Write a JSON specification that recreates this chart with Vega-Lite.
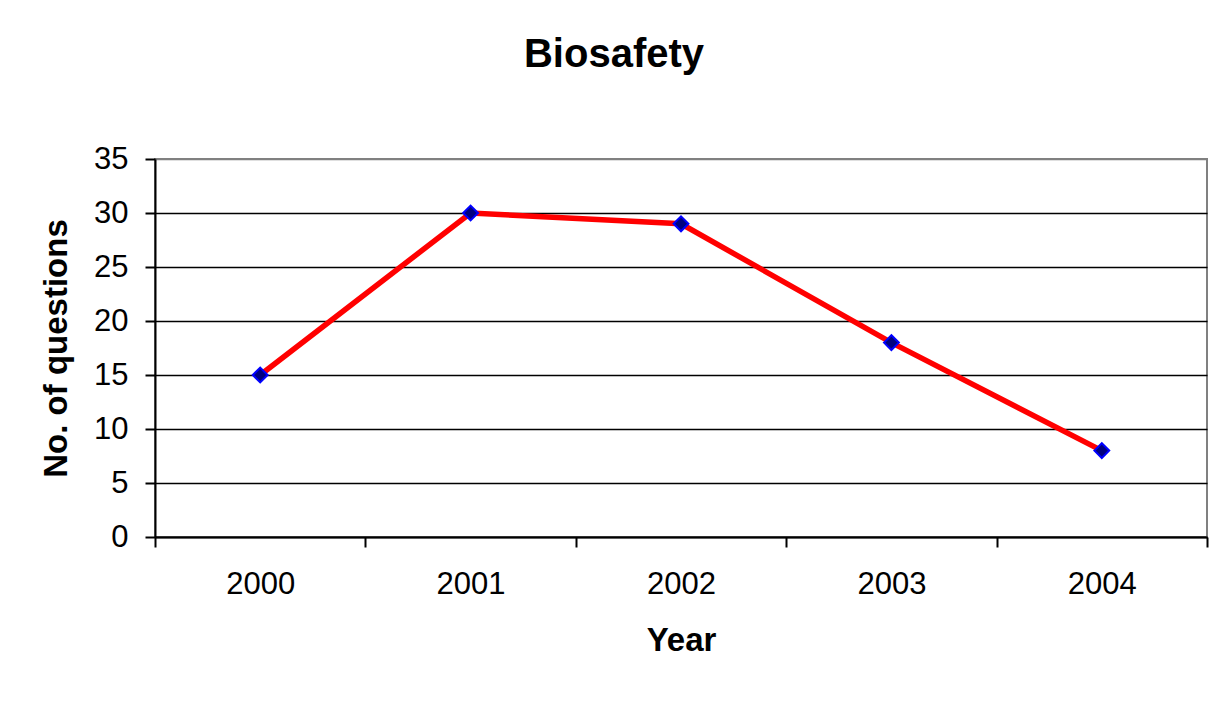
{
  "$schema": "https://vega.github.io/schema/vega-lite/v6.json",
  "width": 1052,
  "height": 378,
  "autosize": {"type": "none"},
  "padding": {"left": 155, "top": 159, "right": 24, "bottom": 165},
  "background": "white",
  "config": {
    "font": "Liberation Sans",
    "view": {"stroke": "#808080", "strokeWidth": 2}
  },
  "title": {
    "text": "Biosafety",
    "font": "Liberation Sans",
    "fontSize": 40,
    "fontWeight": "bold",
    "color": "black",
    "anchor": "middle",
    "dx": -67,
    "offset": 68
  },
  "data": {
    "values": [
      {"Year": "2000", "Questions": 15},
      {"Year": "2001", "Questions": 30},
      {"Year": "2002", "Questions": 29},
      {"Year": "2003", "Questions": 18},
      {"Year": "2004", "Questions": 8}
    ]
  },
  "encoding": {
    "x": {
      "field": "Year",
      "type": "ordinal",
      "scale": {"paddingInner": 0, "paddingOuter": 0},
      "axis": {
        "title": "Year",
        "titleFontSize": 33,
        "titleFontWeight": "bold",
        "titleColor": "black",
        "titlePadding": 25,
        "labelAngle": 0,
        "labelFontSize": 31,
        "labelColor": "black",
        "labelPadding": 22,
        "tickBand": "extent",
        "tickSize": 10,
        "tickWidth": 2,
        "tickColor": "black",
        "domainColor": "black",
        "domainWidth": 2,
        "grid": false
      }
    },
    "y": {
      "field": "Questions",
      "type": "quantitative",
      "scale": {"domain": [0, 35], "nice": false},
      "axis": {
        "title": "No. of questions",
        "titleFontSize": 33,
        "titleFontWeight": "bold",
        "titleColor": "black",
        "titlePadding": 20,
        "values": [0, 5, 10, 15, 20, 25, 30, 35],
        "labelFontSize": 31,
        "labelColor": "black",
        "labelPadding": 17,
        "tickSize": 10,
        "tickWidth": 2,
        "tickColor": "black",
        "domainColor": "black",
        "domainWidth": 2,
        "grid": true,
        "gridColor": {"condition": {"test": "datum.value === 35", "value": "#808080"}, "value": "black"},
        "gridWidth": 1.5,
        "gridOpacity": 1
      }
    }
  },
  "layer": [
    {
      "mark": {"type": "line", "color": "#FF0000", "strokeWidth": 5.5}
    },
    {
      "mark": {"type": "point", "shape": "diamond", "filled": true, "fill": "#000080", "stroke": "#0000FF", "strokeWidth": 2, "size": 220, "opacity": 1}
    }
  ]
}
